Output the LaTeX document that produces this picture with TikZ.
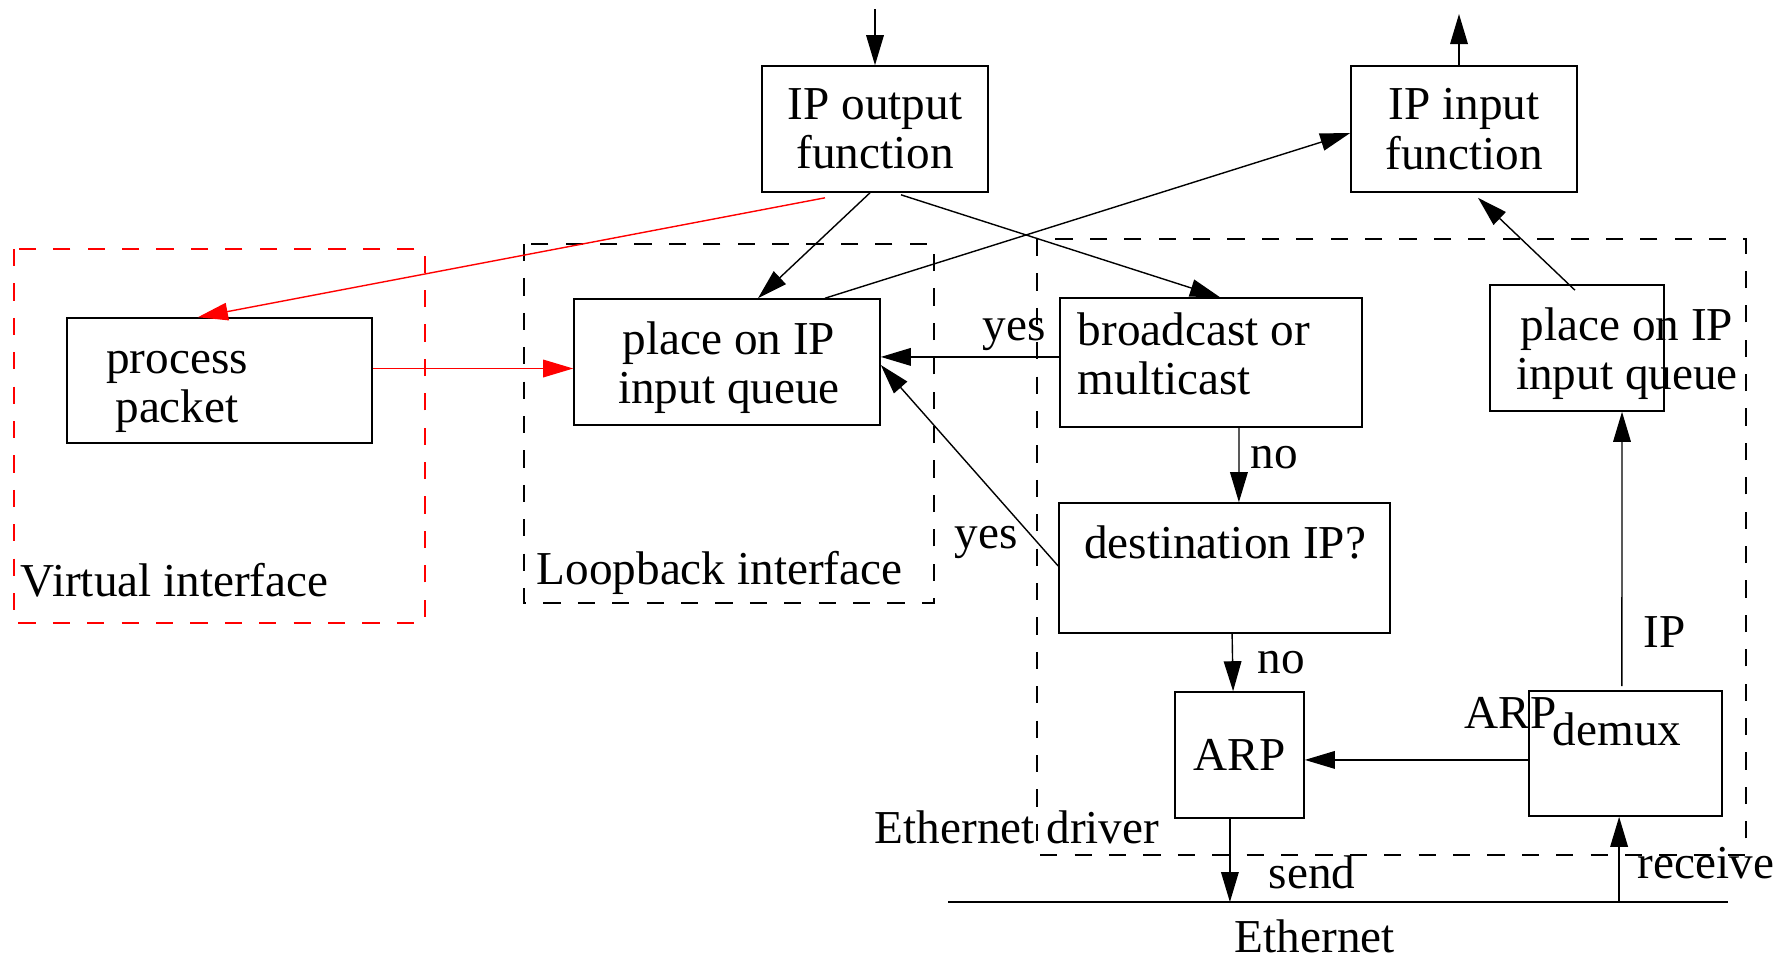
\documentclass[tikz,border=0pt]{standalone}
\usepackage{fontspec}
\setmainfont{Liberation Serif}
\usetikzlibrary{arrows.meta}

\begin{document}
\begin{tikzpicture}[x=0.25pt, y=-0.25pt,
    >={Triangle[length=7.5pt,width=4.4pt]},
    font=\fontsize{11.8}{12.3}\selectfont,
    box/.style={draw, line width=0.4pt, inner sep=0pt, align=center},
    plain text/.style={inner sep=0pt, align=center},
    flow/.style={->, line width=0.35pt},
    red flow/.style={->, line width=0.35pt, color=red},
    frame/.style={line width=0.35pt, dash pattern=on 4.3pt off 4.3pt}]
    \useasboundingbox (0,0) rectangle (1789,957);

    % interface frames
    \draw[frame, red] (14,249) rectangle (425,623);
    \draw[frame] (524,244) rectangle (934,603);
    \draw[frame] (1037,239) rectangle (1746,855);
    \node[plain text, anchor=base west] (virt) at (20,596) {Virtual interface};
    \node[plain text, anchor=base west] (loop) at (536,584) {Loopback interface};
    \node[plain text, anchor=base west] (drv) at (874,843) {Ethernet driver};

    % boxes
    \node[box, minimum width=56.5pt, minimum height=31.5pt] (ipout) at (875,129) {IP output\\function};
    \node[box, minimum width=56.5pt, minimum height=31.5pt] (ipin) at (1464,129) {IP input\\function};
    \node[box, minimum width=76.25pt, minimum height=31.25pt] (proc) at (219.5,380.5) {};
    \node[box, minimum width=76.5pt, minimum height=31.5pt] (loopq) at (727,362) {};
    \node[box, minimum width=75.5pt, minimum height=32.25pt] (bcast) at (1211,362.5) {};
    \node[box, minimum width=82.75pt, minimum height=32.5pt] (dest) at (1224.5,568) {};
    \node[box, minimum width=32.25pt, minimum height=31.5pt] (arp) at (1239.5,755) {ARP};
    \node[box, minimum width=48.25pt, minimum height=31.25pt] (demux) at (1625.5,753.5) {};
    \node[box, minimum width=43.5pt, minimum height=31.5pt] (ethq) at (1577,348) {};

    % texts that sit off centre
    \node[plain text] (proctext) at (177,392) {process\\packet};
    \node[plain text] (loopqtext) at (729,368) {place on IP\\input queue};
    \node[plain text, align=left, anchor=west] (bcasttext) at (1077,354) {broadcast or\\multicast};
    \node[plain text, anchor=base] (desttext) at (1225,558) {destination IP?};
    \node[plain text, anchor=base west] (demuxtext) at (1552,745) {demux};
    \node[plain text] (ethqtext) at (1627,354) {place on IP\\input queue};

    % ethernet
    \coordinate (ethl) at (948,902);
    \coordinate (ethr) at (1728,902);
    \draw[line width=0.35pt] (ethl) -- (ethr);
    \node[plain text, anchor=base west] (ethname) at (1234,952) {Ethernet};

    % connectors
    \coordinate (outtop) at (875,9);
    \coordinate (intop) at (1459,14);
    \draw[flow] (outtop) -- (ipout);
    \draw[flow] ([xshift=-1.25pt]ipin.north) -- (intop);
    \draw[red flow] ([xshift=-12.5pt, yshift=-1.25pt]ipout.south) -- ([xshift=-5.4pt]proc.north);
    \draw[red flow] ([yshift=3pt]proc.east) -- ([yshift=3pt]proc.east -| loopq.west);
    \draw[flow] ([xshift=-1.25pt]ipout.south) -- ([xshift=7.75pt]loopq.north);
    \draw[flow] ([xshift=24.5pt]loopq.north) -- ([yshift=-1pt]ipin.west);
    \draw[flow] ([xshift=6.5pt, yshift=-0.5pt]ipout.south) -- ([xshift=2.25pt]bcast.north);
    \draw[flow] ([yshift=1.4pt]bcast.west) -- ([yshift=1.4pt]bcast.west -| loopq.east);
    \draw[flow] ([yshift=0.5pt]dest.west) -- ([yshift=-0.75pt]loopq.east);
    \draw[flow] ([xshift=7pt]bcast.south) -- ([xshift=3.6pt]dest.north);
    \draw[flow] ([xshift=1.9pt]dest.south) -- ([xshift=-1.6pt]arp.north);
    \draw[flow] ([yshift=-1.6pt]demux.west) -- ([yshift=-1.6pt]demux.west -| arp.east);
    \draw[flow] ([xshift=-0.9pt, yshift=1pt]demux.north) -- ([xshift=11.25pt]ethq.south);
    \draw[flow] ([xshift=-0.5pt, yshift=-1.5pt]ethq.north) -- ([xshift=3.5pt, yshift=-1.25pt]ipin.south);
    \draw[flow] ([xshift=-2.4pt]arp.south) -- ([xshift=-2.4pt]arp.south |- ethl);
    \draw[flow] ([xshift=-1.6pt]demux.south |- ethl) -- ([xshift=-1.6pt]demux.south);

    % connector labels
    \node[plain text, anchor=base west] (yesbc) at (982,340) {yes};
    \node[plain text, anchor=base west] (yesdest) at (954,548) {yes};
    \node[plain text, anchor=base west] (nobc) at (1250,468) {no};
    \node[plain text, anchor=base west] (nodest) at (1257,673) {no};
    \node[plain text, anchor=base west] (iplabel) at (1643,647) {IP};
    \node[plain text, anchor=base west] (arplabel) at (1464,728) {ARP};
    \node[plain text, anchor=base west] (send) at (1268,888) {send};
    \node[plain text, anchor=base west] (receive) at (1637,878) {receive};
\end{tikzpicture}
\end{document}
